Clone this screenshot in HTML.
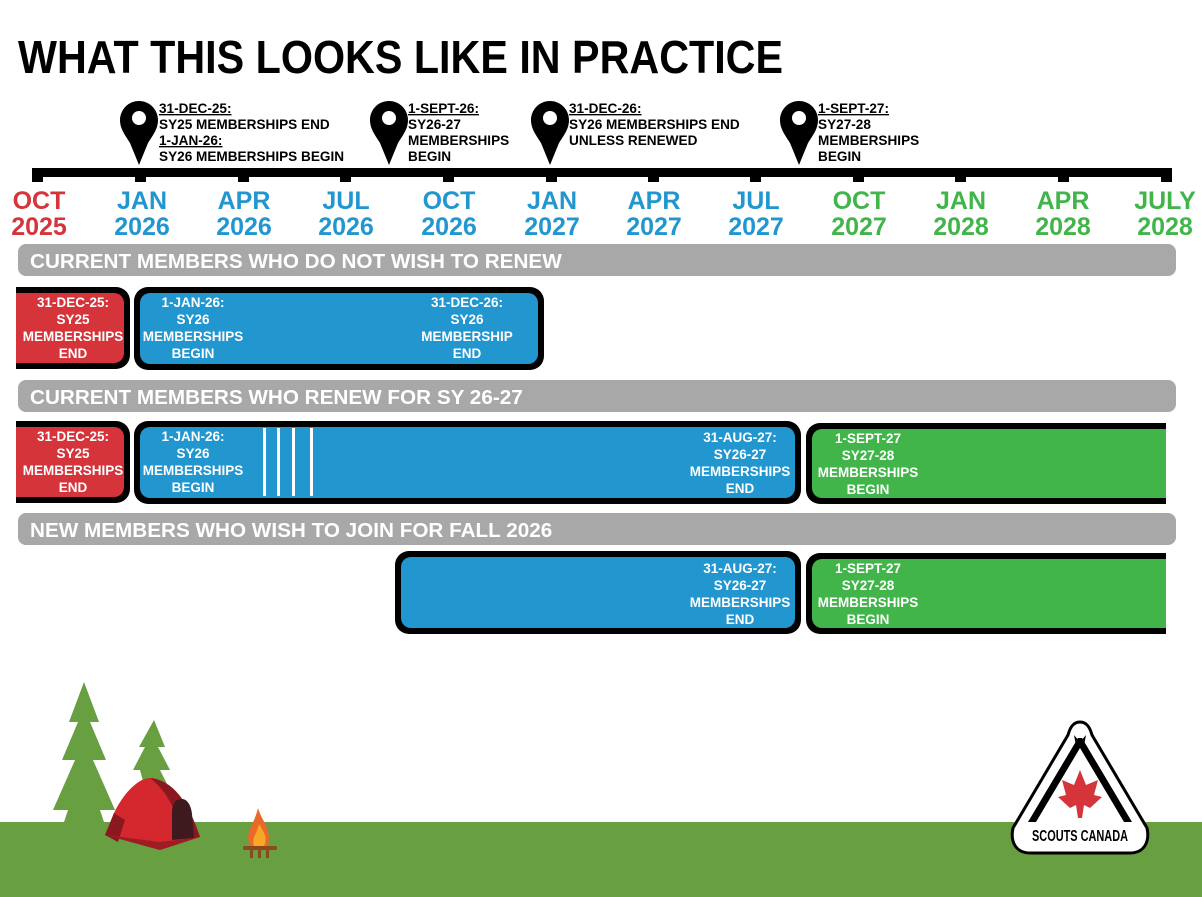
<!DOCTYPE html>
<html><head><meta charset="utf-8"><style>
html,body{margin:0;padding:0;background:#fff;}
svg{display:block;}
text{font-family:"Liberation Sans",sans-serif;font-weight:bold;}
</style></head><body>
<svg width="1202" height="897" viewBox="0 0 1202 897" xmlns="http://www.w3.org/2000/svg">
<text x="18" y="73" font-size="46" fill="#000" textLength="765" lengthAdjust="spacingAndGlyphs">WHAT THIS LOOKS LIKE IN PRACTICE</text>

<!-- timeline -->
<rect x="32" y="168" width="1140" height="9" fill="#000"/>
<g fill="#000">
<rect x="32" y="170" width="11" height="12"/><rect x="135" y="170" width="11" height="12"/><rect x="238" y="170" width="11" height="12"/><rect x="340" y="170" width="11" height="12"/><rect x="443" y="170" width="11" height="12"/><rect x="546" y="170" width="11" height="12"/><rect x="648" y="170" width="11" height="12"/><rect x="750" y="170" width="11" height="12"/><rect x="853" y="170" width="11" height="12"/><rect x="955" y="170" width="11" height="12"/><rect x="1058" y="170" width="11" height="12"/><rect x="1161" y="170" width="11" height="12"/>
</g>
<g font-size="25" text-anchor="middle">
<text x="39" y="209" fill="#d4343a">OCT</text><text x="39" y="235" fill="#d4343a">2025</text>
<g fill="#2196cf">
<text x="142" y="209">JAN</text><text x="142" y="235">2026</text>
<text x="244" y="209">APR</text><text x="244" y="235">2026</text>
<text x="346" y="209">JUL</text><text x="346" y="235">2026</text>
<text x="449" y="209">OCT</text><text x="449" y="235">2026</text>
<text x="552" y="209">JAN</text><text x="552" y="235">2027</text>
<text x="654" y="209">APR</text><text x="654" y="235">2027</text>
<text x="756" y="209">JUL</text><text x="756" y="235">2027</text>
</g>
<g fill="#41b54a">
<text x="859" y="209">OCT</text><text x="859" y="235">2027</text>
<text x="961" y="209">JAN</text><text x="961" y="235">2028</text>
<text x="1063" y="209">APR</text><text x="1063" y="235">2028</text>
<text x="1165" y="209">JULY</text><text x="1165" y="235">2028</text>
</g></g>

<!-- pins -->
<defs><g id="pin"><path d="M0,-64 C-11,-64 -19,-55 -19,-45 C-19,-36 -14,-30 -9,-22 L0,0 L9,-22 C14,-30 19,-36 19,-45 C19,-55 11,-64 0,-64Z" fill="#000"/><circle cx="0" cy="-47" r="7" fill="#fff"/></g></defs>
<use href="#pin" x="139" y="165"/><use href="#pin" x="389" y="165"/><use href="#pin" x="550" y="165"/><use href="#pin" x="799" y="165"/>
<g font-size="13.6" fill="#000">
<text x="159" y="113" text-decoration="underline">31-DEC-25:</text>
<text x="159" y="129">SY25 MEMBERSHIPS END</text>
<text x="159" y="145" text-decoration="underline">1-JAN-26:</text>
<text x="159" y="161">SY26 MEMBERSHIPS BEGIN</text>
<text x="408" y="113" text-decoration="underline">1-SEPT-26:</text>
<text x="408" y="129">SY26-27</text><text x="408" y="145">MEMBERSHIPS</text><text x="408" y="161">BEGIN</text>
<text x="569" y="113" text-decoration="underline">31-DEC-26:</text>
<text x="569" y="129">SY26 MEMBERSHIPS END</text><text x="569" y="145">UNLESS RENEWED</text>
<text x="818" y="113" text-decoration="underline">1-SEPT-27:</text>
<text x="818" y="129">SY27-28</text><text x="818" y="145">MEMBERSHIPS</text><text x="818" y="161">BEGIN</text>
</g>

<!-- row1 -->
<rect x="-20" y="287" width="150" height="82" rx="14" fill="#000"/>
<rect x="-20" y="293" width="144" height="70" rx="10" fill="#d4343a"/>
<rect x="134" y="287" width="410" height="83" rx="14" fill="#000"/>
<rect x="140" y="293" width="398" height="71" rx="10" fill="#2196cf"/>
<!-- row2 -->
<rect x="-20" y="421" width="150" height="82" rx="14" fill="#000"/>
<rect x="-20" y="427" width="144" height="70" rx="10" fill="#d4343a"/>
<rect x="134" y="421" width="667" height="83" rx="14" fill="#000"/>
<rect x="140" y="427" width="655" height="71" rx="10" fill="#2196cf"/>
<g fill="#fff"><rect x="263" y="428" width="3" height="68"/><rect x="277" y="428" width="3" height="68"/><rect x="292" y="428" width="3" height="68"/><rect x="310" y="428" width="3" height="68"/></g>
<rect x="806" y="423" width="400" height="81" rx="14" fill="#000"/>
<rect x="812" y="429" width="390" height="69" rx="10" fill="#41b54a"/>
<!-- row3 -->
<rect x="395" y="551" width="406" height="83" rx="14" fill="#000"/>
<rect x="401" y="557" width="394" height="71" rx="10" fill="#2196cf"/>
<rect x="806" y="553" width="400" height="81" rx="14" fill="#000"/>
<rect x="812" y="559" width="390" height="69" rx="10" fill="#41b54a"/>
<rect x="0" y="280" width="16" height="230" fill="#fff"/>
<rect x="1166" y="418" width="40" height="90" fill="#fff"/>
<rect x="1166" y="548" width="40" height="90" fill="#fff"/>

<!-- gray bars -->
<g fill="#a8a8a8"><rect x="18" y="244" width="1158" height="32" rx="8"/><rect x="18" y="380" width="1158" height="32" rx="8"/><rect x="18" y="513" width="1158" height="32" rx="8"/></g>
<g font-size="20.7" fill="#fff">
<text x="30" y="268">CURRENT MEMBERS WHO DO NOT WISH TO RENEW</text>
<text x="30" y="404">CURRENT MEMBERS WHO RENEW FOR SY 26-27</text>
<text x="30" y="537">NEW MEMBERS WHO WISH TO JOIN FOR FALL 2026</text>
</g>

<g font-size="13.5" fill="#fff" text-anchor="middle">
<text x="73" y="307">31-DEC-25:</text><text x="73" y="324">SY25</text><text x="73" y="341">MEMBERSHIPS</text><text x="73" y="358">END</text>
<text x="193" y="307">1-JAN-26:</text><text x="193" y="324">SY26</text><text x="193" y="341">MEMBERSHIPS</text><text x="193" y="358">BEGIN</text>
<text x="467" y="307">31-DEC-26:</text><text x="467" y="324">SY26</text><text x="467" y="341">MEMBERSHIP</text><text x="467" y="358">END</text>
<text x="73" y="441">31-DEC-25:</text><text x="73" y="458">SY25</text><text x="73" y="475">MEMBERSHIPS</text><text x="73" y="492">END</text>
<text x="193" y="441">1-JAN-26:</text><text x="193" y="458">SY26</text><text x="193" y="475">MEMBERSHIPS</text><text x="193" y="492">BEGIN</text>
<text x="740" y="442">31-AUG-27:</text><text x="740" y="459">SY26-27</text><text x="740" y="476">MEMBERSHIPS</text><text x="740" y="493">END</text>
<text x="868" y="443">1-SEPT-27</text><text x="868" y="460">SY27-28</text><text x="868" y="477">MEMBERSHIPS</text><text x="868" y="494">BEGIN</text>
<text x="740" y="573">31-AUG-27:</text><text x="740" y="590">SY26-27</text><text x="740" y="607">MEMBERSHIPS</text><text x="740" y="624">END</text>
<text x="868" y="573">1-SEPT-27</text><text x="868" y="590">SY27-28</text><text x="868" y="607">MEMBERSHIPS</text><text x="868" y="624">BEGIN</text>
</g>

<!-- ground -->
<rect x="0" y="822" width="1202" height="75" fill="#689f41"/>
<g fill="#689f41">
<polygon points="84,682 99,722 90,722 106,760 93,760 115,810 100,810 104,822 64,822 68,810 53,810 75,760 62,760 78,722 69,722"/>
<polygon points="154,720 165,747 158,747 170,770 160,770 175,800 148,800 140,770 133,770 145,747 139,747"/>
</g>
<!-- tent -->
<path d="M114,813 C125,790 140,778 150,778 C168,778 185,800 200,837 L160,850 L105,835 Z" fill="#d4282e"/>
<path d="M105,835 L114,813 L125,820 L118,842Z" fill="#8b1820"/>
<path d="M150,778 C172,780 188,800 200,837 L183,840 C178,812 166,790 150,778Z" fill="#8b1820"/>
<path d="M172,840 L172,812 C172,802 177,799 182,799 C187,799 191,805 192,814 L194,838 Z" fill="#3e1a1e"/>
<polygon points="105,835 160,850 200,837 160,842" fill="#a01c24"/>
<!-- fire -->
<path d="M258,808 C262,822 272,828 268,846 L250,846 C244,832 254,826 258,808Z" fill="#e8692a"/>
<path d="M259,824 C264,832 268,838 264,846 L254,846 C251,838 257,834 259,824Z" fill="#f9a825"/>
<rect x="243" y="846" width="34" height="4" rx="2" fill="#8a4a1f"/>
<rect x="250" y="850" width="3" height="8" fill="#8a4a1f"/><rect x="258" y="850" width="3" height="8" fill="#8a4a1f"/><rect x="266" y="850" width="3" height="8" fill="#8a4a1f"/>
<!-- logo -->
<path d="M1080,722 C1073,722 1070,728 1068,735 L1013,828 C1010,842 1016,853 1030,853 L1130,853 C1144,853 1150,842 1147,828 L1092,735 C1090,728 1087,722 1080,722Z" fill="#fff" stroke="#000" stroke-width="3"/>
<polygon points="1078,738 1082,738 1132,822 1124,822 1080,748 1036,822 1028,822" fill="#000"/>
<polygon points="1074,735 1080,742 1086,735 1084,746 1076,746" fill="#000"/>
<path d="M1080,770 L1086,785 L1098,780 L1094,795 L1102,797 L1090,808 L1084,805 L1082,818 L1078,818 L1076,805 L1070,808 L1058,797 L1066,795 L1062,780 L1074,785Z" fill="#d4343a"/>
<text x="1080" y="841" font-size="16" fill="#000" text-anchor="middle" textLength="96" lengthAdjust="spacingAndGlyphs">SCOUTS CANADA</text>
</svg>
</body></html>
